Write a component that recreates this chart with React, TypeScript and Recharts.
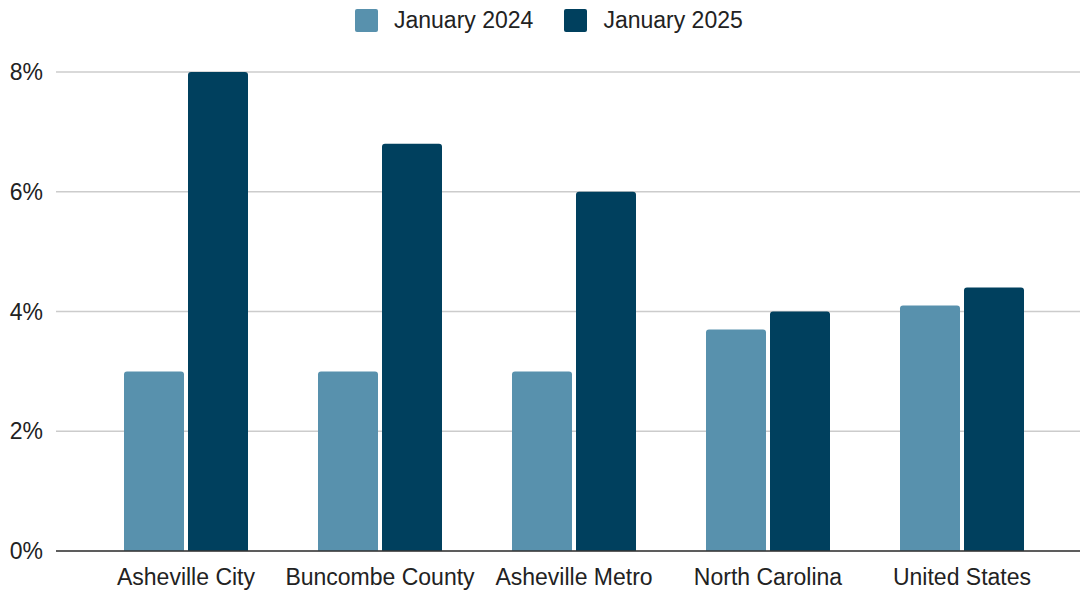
import React from 'react';
import { BarChart, Bar, XAxis, YAxis, CartesianGrid } from 'recharts';

const categories = ['Asheville City', 'Buncombe County', 'Asheville Metro', 'North Carolina', 'United States'];
const jan2024 = [3.0, 3.0, 3.0, 3.7, 4.1];
const jan2025 = [8.0, 6.8, 6.0, 4.0, 4.4];
const yTicks = [0, 2, 4, 6, 8];

const SERIES = [
    { key: 'jan2024', name: 'January 2024', color: '#5891ad' },
    { key: 'jan2025', name: 'January 2025', color: '#00405e' },
];

const data = categories.map((name, i) => ({
    name,
    jan2024: jan2024[i],
    jan2025: jan2025[i],
}));

const FONT = '"Liberation Sans", Arial, sans-serif';
const FONT_SIZE = 23;

export default function App() {
    return (
        <div
            style={{
                position: 'absolute',
                left: 0,
                top: 0,
                width: 1080,
                height: 590,
                overflow: 'hidden',
                background: '#fff',
            }}
        >
            {/* legend sits above the plot */}
            <div
                style={{
                    position: 'absolute',
                    top: 8,
                    left: 355,
                    display: 'flex',
                    gap: 31,
                    fontFamily: FONT,
                    fontSize: FONT_SIZE,
                    color: '#222',
                    lineHeight: '25px',
                    zIndex: 1,
                }}
            >
                {SERIES.map(s => (
                    <div key={s.key} style={{ display: 'flex', alignItems: 'center', gap: 16 }}>
                        <div style={{ width: 23, height: 23, borderRadius: 2, backgroundColor: s.color }} />
                        <span>{s.name}</span>
                    </div>
                ))}
            </div>
            <BarChart
                width={1080}
                height={590}
                data={data}
                margin={{ top: 72, right: 0, bottom: 0, left: 0 }}
                barCategoryGap={35}
                barGap={4}
                style={{ overflow: 'visible' }}
            >
                <CartesianGrid vertical={false} stroke="#cccccc" strokeWidth={1.5} />
                <XAxis
                    dataKey="name"
                    height={39}
                    padding={{ left: 33, right: 21 }}
                    tickLine={false}
                    axisLine={{ stroke: '#333', strokeWidth: 1.5 }}
                    tickMargin={12}
                    tick={{ fill: '#222', fontSize: FONT_SIZE, fontFamily: FONT }}
                    interval={0}
                />
                <YAxis
                    width={56}
                    domain={[0, 8]}
                    ticks={yTicks}
                    tickFormatter={(v) => `${v}%`}
                    axisLine={false}
                    tickLine={false}
                    tickMargin={7}
                    tick={{ fill: '#222', fontSize: FONT_SIZE, fontFamily: FONT }}
                />
                {SERIES.map(s => (
                    <Bar
                        key={s.key}
                        dataKey={s.key}
                        name={s.name}
                        fill={s.color}
                        radius={[3, 3, 0, 0]}
                        isAnimationActive={false}
                    />
                ))}
            </BarChart>
        </div>
    );
}
